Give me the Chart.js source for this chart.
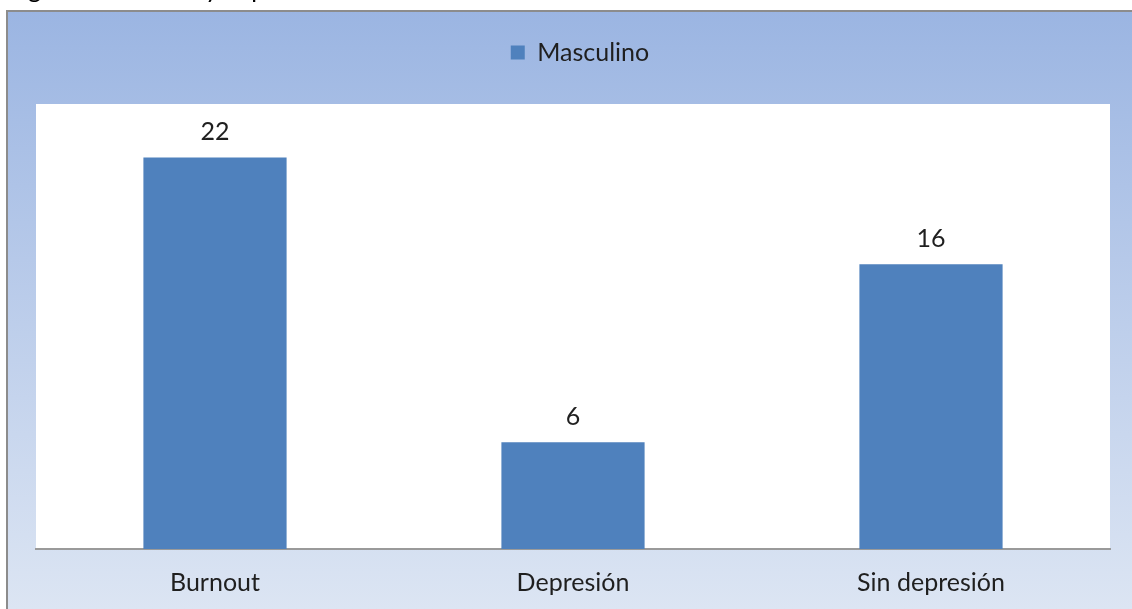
<!DOCTYPE html>
<html>
<head>
<meta charset="utf-8">
<script src="https://cdn.jsdelivr.net/npm/chart.js@4.4.1/dist/chart.umd.min.js"></script>
<style>
  html, body { margin: 0; padding: 0; background: #ffffff; overflow: hidden; }
  #wrap { position: relative; width: 1132px; height: 609px; overflow: hidden; }
  #caption {
    position: absolute; left: 8px; top: -27px; margin: 0;
    font-family: Lato, sans-serif; font-size: 25px; line-height: 30px; color: #000;
    white-space: nowrap;
  }
  #c { position: absolute; left: 0; top: 0; }
</style>
</head>
<body>
<div id="wrap">
  <canvas id="c" width="1132" height="609"></canvas>
  <p id="caption">Figura 4. Burnout y depresión</p>
</div>
<script>
const categories = ['Burnout', 'Depresión', 'Sin depresión'];
const seriesName = 'Masculino';
const seriesValues = [22, 6, 16];
const yMin = 0;
const yMax = 25;

const FONT = 'Lato, sans-serif';
const BAR_BLUE = '#4F81BD';

// Outer panel with vertical gradient and gray frame, white plot area
const panelBackground = {
  id: 'panelBackground',
  beforeDraw(chart) {
    const { ctx, chartArea } = chart;
    const x0 = 7, y0 = 11;
    ctx.save();
    const g = ctx.createLinearGradient(0, y0, 0, chart.height);
    g.addColorStop(0, '#9BB5E2');
    g.addColorStop(1, '#DCE5F3');
    ctx.fillStyle = g;
    ctx.fillRect(x0, y0, chart.width - x0, chart.height - y0);
    ctx.strokeStyle = '#8C8C8C';
    ctx.lineWidth = 2;
    ctx.beginPath();
    ctx.moveTo(x0, chart.height);
    ctx.lineTo(x0, y0);
    ctx.lineTo(chart.width, y0);
    ctx.stroke();
    ctx.fillStyle = '#FFFFFF';
    ctx.fillRect(chartArea.left, chartArea.top,
                 chartArea.right - chartArea.left, chartArea.bottom - chartArea.top);
    ctx.restore();
  }
};

// Extra room between the legend and the plot area, legend nudged right
const legendSpacing = {
  id: 'legendSpacing',
  beforeInit(chart) {
    const origFit = chart.legend.fit;
    chart.legend.fit = function () {
      origFit.call(this);
      this.height += 29;
    };
  },
  afterLayout(chart) {
    chart.legend.left += 7;
    chart.legend.right += 7;
  }
};

// Value labels above each bar
const valueLabels = {
  id: 'valueLabels',
  afterDatasetsDraw(chart) {
    const { ctx } = chart;
    const meta = chart.getDatasetMeta(0);
    ctx.save();
    ctx.font = '25px ' + FONT;
    ctx.fillStyle = '#1F1F1F';
    ctx.textAlign = 'center';
    ctx.textBaseline = 'middle';
    meta.data.forEach((bar, i) => {
      ctx.fillText(String(seriesValues[i]), bar.x, bar.y - 25);
    });
    ctx.restore();
  }
};

new Chart(document.getElementById('c'), {
  type: 'bar',
  data: {
    labels: categories,
    datasets: [{
      label: seriesName,
      data: seriesValues,
      backgroundColor: BAR_BLUE,
      borderWidth: 0,
      barPercentage: 0.4,
      categoryPercentage: 1.0
    }]
  },
  options: {
    responsive: false,
    animation: false,
    devicePixelRatio: 1,
    layout: { padding: { left: 36, right: 22, top: 20, bottom: 0 } },
    plugins: {
      legend: {
        display: true,
        position: 'top',
        labels: {
          font: { family: FONT, size: 25 },
          color: '#1F1F1F',
          boxWidth: 14,
          boxHeight: 14,
          padding: 20
        }
      },
      tooltip: { enabled: false }
    },
    scales: {
      x: {
        grid: { display: false, drawTicks: false },
        border: { display: true, color: '#9A9A9A', width: 2 },
        ticks: {
          font: { family: FONT, size: 25 },
          color: '#1F1F1F',
          padding: 19
        },
        afterFit(scale) { scale.height = 60; }
      },
      y: {
        display: false,
        min: yMin,
        max: yMax
      }
    }
  },
  plugins: [legendSpacing, panelBackground, valueLabels]
});
</script>
</body>
</html>
